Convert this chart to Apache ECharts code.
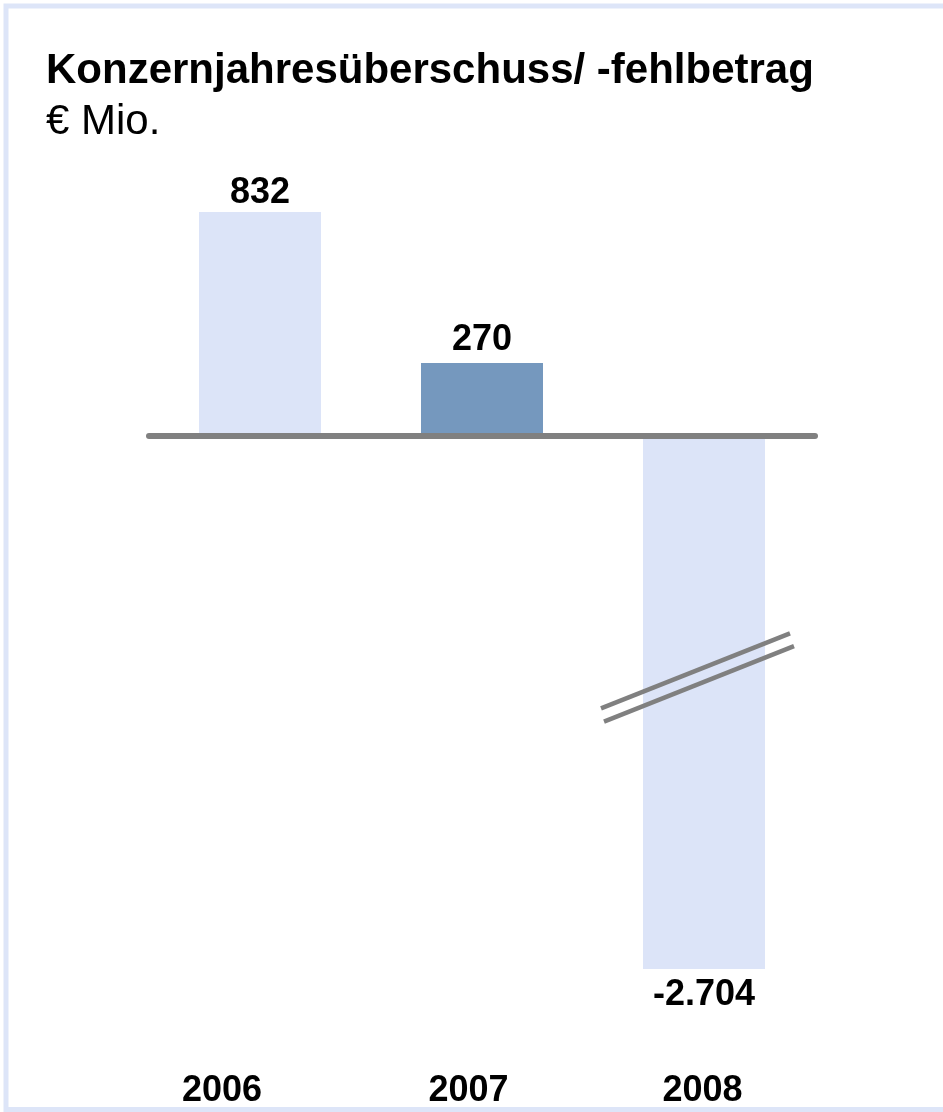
<!DOCTYPE html>
<html><head><meta charset="utf-8">
<script src="https://cdn.jsdelivr.net/npm/echarts@6/dist/echarts.min.js"></script>
<style>html,body{margin:0;padding:0;background:#fff}#c{width:943px;height:1112px}</style>
</head><body><div id="c"></div>
<script>
// ---- data ----
const categories = ['2006', '2007', '2008'];
const values = [832, 270, -2704];
const titleText = 'Konzernjahresüberschuss/ -fehlbetrag';
const unitText = '€ Mio.';

// ---- styles ----
const barColors = ['#dce4f8', '#7598be', '#dce4f8'];
const labelDistances = [1, 5, 8];
const labelShifts = [76, 27, 3];
const FONT = '"Liberation Sans", Arial, Helvetica, sans-serif';
const breakLower = -1608, breakUpper = -891;

function fmt(v) {
  const s = Math.abs(v).toString().replace(/\B(?=(\d{3})+(?!\d))/g, '.');
  return (v < 0 ? '-' : '') + s;
}

const chart = echarts.init(document.getElementById('c'), null, { renderer: 'canvas' });

const rich = {};
categories.forEach((c, i) => {
  rich['c' + i] = { fontFamily: FONT, fontSize: 36, fontWeight: 'bold', color: '#000', padding: [0, labelShifts[i], 0, 0] };
});

const option = {
  animation: false,
  backgroundColor: '#fff',
  title: [
    { text: titleText, left: 46, top: 50, padding: 0,
      textStyle: { fontFamily: FONT, fontSize: 42, fontWeight: 'bold', color: '#000' } },
    { text: unitText, left: 46, top: 101, padding: 0,
      textStyle: { fontFamily: FONT, fontSize: 42, fontWeight: 'normal', color: '#000' } }
  ],
  grid: { left: 149, top: 212, width: 666, height: 757, outerBoundsMode: 'none' },
  xAxis: [
    { type: 'category', data: categories, z: 5,
      axisLine: { onZero: true, lineStyle: { color: '#808080', width: 6, cap: 'round' } },
      axisTick: { show: false }, axisLabel: { show: false }, splitLine: { show: false } },
    { type: 'category', data: categories, position: 'bottom',
      axisLine: { show: false, onZero: false }, axisTick: { show: false }, splitLine: { show: false },
      axisLabel: { margin: 104, interval: 0,
        formatter: (v, i) => '{c' + i + '|' + v + '}', rich: rich } }
  ],
  yAxis: {
    type: 'value', min: -2704, max: 832,
    breaks: [{ start: breakLower, end: breakUpper, gap: 0 }],
    breakArea: { show: false },
    axisLine: { show: false }, axisTick: { show: false }, axisLabel: { show: false }, splitLine: { show: false }
  },
  series: [{
    type: 'bar', xAxisIndex: 0, yAxisIndex: 0, barWidth: 122,
    data: values.map((v, i) => ({
      value: v,
      itemStyle: { color: barColors[i] },
      label: { position: v < 0 ? 'bottom' : 'top', distance: labelDistances[i] }
    })),
    label: { show: true, fontFamily: FONT, fontSize: 36, fontWeight: 'bold', color: '#000',
      formatter: p => fmt(p.value) }
  }]
};
chart.setOption(option);

// break marks and frame
const bp = chart.convertToPixel({ xAxisIndex: 0, yAxisIndex: 0 }, [categories[2], breakUpper]);
const slope = -75 / 189;
function seg(x0, x1, dy) {
  return { type: 'line', z: 20, silent: true,
    shape: { x1: bp[0] + x0, y1: bp[1] + dy + x0 * slope, x2: bp[0] + x1, y2: bp[1] + dy + x1 * slope },
    style: { stroke: '#808080', lineWidth: 4.5 } };
}
chart.setOption({
  graphic: [
    { type: 'rect', z: 30, silent: true, shape: { x: 6, y: 6, width: 1000, height: 1103.5 },
      style: { fill: null, stroke: '#dde5f8', lineWidth: 5 } },
    seg(-103, 86, -7.2),
    seg(-100, 90, 7.2)
  ]
});
</script>
</body></html>
